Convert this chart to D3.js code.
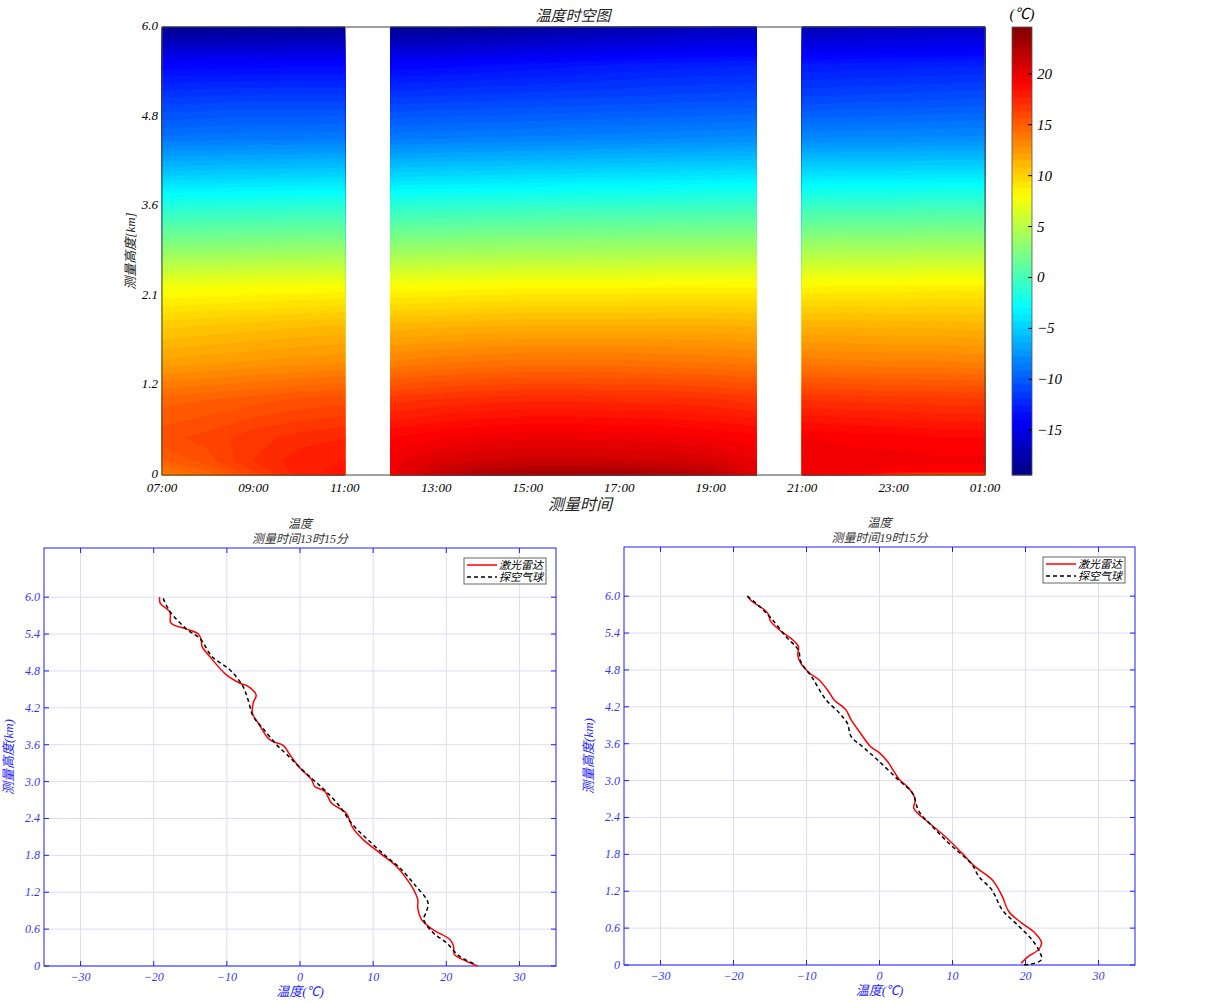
<!DOCTYPE html>
<html>
<head>
<meta charset="utf-8">
<script src="https://cdn.jsdelivr.net/npm/d3@7"></script>
<style>
body{margin:0;background:#fff;}
svg text{font-family:"Liberation Serif","Noto Sans CJK SC",serif;font-style:italic;}
</style>
</head>
<body>
<div id="chart"></div>
<script>
// ---------------- data ----------------
// heatmap grid: hours after 07:00, heights (km), temperature rows (one per height)
var gridHours = [0,1,2,3,4,5,6,7,8,9,10,11,12,13,14,15,16,17,18];
var gridHeights = [0,0.05,0.2,0.5,1.0,1.5,2.0,2.5,3.0,3.5,4.0,4.5,5.0,5.5,6.0];
var segments = [[0,4],[5,13],[14,18]];   // column ranges with data (gaps 11-12h, 20-21h)
var gridTemp = [
  [13.5,14.5,16.0,17.5,18.0, 19.5,21.5,23.0,23.3,23.3,23.3,23.0,22.5,20.5, 19.5,19.0,16.0,15.0,15.0],
  [14.0,15.0,16.5,17.8,18.2, 19.8,21.3,22.3,22.6,22.6,22.6,22.3,21.8,20.3, 19.8,19.6,19.3,19.2,19.2],
  [15.0,15.8,17.0,17.8,18.0, 19.8,20.5,21.0,21.2,21.2,21.1,21.0,20.7,20.0, 20.0,19.8,19.7,19.6,19.6],
  [15.8,16.2,16.8,17.2,17.5, 19.0,19.4,19.7,19.9,19.9,19.8,19.7,19.5,19.2, 19.5,19.3,19.2,19.0,19.0],
  [14.8,15.0,15.3,15.6,15.8, 16.8,17.1,17.3,17.4,17.4,17.3,17.3,17.1,16.8, 17.0,16.9,16.8,16.7,16.6],
  [12.2,12.4,12.6,12.8,13.0, 13.6,13.9,14.1,14.2,14.2,14.2,14.1,14.0,13.8, 13.8,13.7,13.6,13.6,13.5],
  [10.3,10.5,10.7,10.9,11.0, 11.2,11.3,11.4,11.5,11.5,11.5,11.5,11.5,11.4, 11.4,11.4,11.3,11.3,11.2],
  [7.8,7.9,8.0,8.1,8.2, 8.2,8.3,8.4,8.5,8.5,8.5,8.6,8.6,8.6, 8.6,8.7,8.7,8.8,8.8],
  [3.4,3.5,3.6,3.7,3.8, 3.8,3.9,4.0,4.1,4.1,4.2,4.3,4.3,4.4, 4.4,4.5,4.5,4.6,4.6],
  [-0.6,-0.5,-0.4,-0.3,-0.2, -0.2,-0.1,0.0,0.1,0.2,0.2,0.3,0.4,0.5, 0.4,0.5,0.5,0.6,0.6],
  [-5.0,-4.9,-4.8,-4.7,-4.6, -4.6,-4.5,-4.4,-4.3,-4.2,-4.1,-4.0,-3.9,-3.8, -4.0,-3.9,-3.9,-3.8,-3.8],
  [-8.8,-8.7,-8.6,-8.6,-8.5, -8.6,-8.5,-8.4,-8.3,-8.2,-8.1,-8.0,-7.9,-7.8, -8.0,-7.9,-7.9,-7.8,-7.8],
  [-11.2,-11.1,-11.0,-11.0,-11.0, -11.2,-11.1,-11.0,-10.9,-10.8,-10.7,-10.6,-10.5,-10.4, -10.7,-10.6,-10.5,-10.4,-10.3],
  [-13.9,-13.8,-13.8,-13.7,-13.7, -13.9,-13.8,-13.6,-13.4,-13.2,-13.0,-12.8,-12.7,-12.6, -13.0,-12.9,-12.8,-12.7,-12.6],
  [-18.8,-18.8,-18.7,-18.6,-18.6, -18.8,-18.7,-18.5,-18.2,-17.9,-17.6,-17.3,-17.0,-16.8, -17.2,-17.0,-16.8,-16.6,-16.5]
];
var timeTickHours = [0,2,4,6,8,10,12,14,16,18];
var timeTickLabels = ['07:00','09:00','11:00','13:00','15:00','17:00','19:00','21:00','23:00','01:00'];
var heightTicks = [0,1.2,2.4,3.6,4.8,6.0];
var heightTickLabels = ['0','1.2','2.1','3.6','4.8','6.0'];
var cbarRange = [-19.4, 24.6];
var cbarTicks = [-15,-10,-5,0,5,10,15,20];

// profiles [temperature, height]
var lidar1315 = [[-19.2,6.0],[-19.1,5.9],[-17.8,5.76],[-17.7,5.59],[-17.3,5.55],[-15.5,5.48],[-13.9,5.4],[-13.5,5.3],[-13.4,5.2],[-12.3,5.03],[-10.1,4.74],[-8.2,4.6],[-7.1,4.55],[-6.0,4.41],[-6.4,4.28],[-6.5,4.11],[-5.7,3.95],[-4.4,3.71],[-3.7,3.65],[-2.3,3.59],[-1.4,3.44],[0,3.22],[1.6,3.03],[2.0,2.92],[3.4,2.84],[4.3,2.65],[6.3,2.49],[7.2,2.25],[8.6,2.06],[10.9,1.84],[13.2,1.62],[14.5,1.43],[15.4,1.27],[16.1,1.08],[16.1,0.95],[16.6,0.76],[18.2,0.59],[20.5,0.43],[21.0,0.32],[21.1,0.19],[22.7,0.08],[24.3,0.0]];
var sonde1315 = [[-18.7,5.98],[-17.8,5.77],[-15.5,5.48],[-13.7,5.33],[-12.0,5.03],[-9.6,4.82],[-7.8,4.55],[-7.1,4.33],[-6.4,4.06],[-5.1,3.87],[-3.2,3.6],[-1.8,3.44],[-0.2,3.25],[1.8,3.03],[3.4,2.86],[5.4,2.6],[7.2,2.3],[9.5,2.03],[11.8,1.78],[13.6,1.6],[15.7,1.32],[17.5,1.03],[17.2,0.86],[16.9,0.76],[18.2,0.54],[20.0,0.38],[21.8,0.16],[24.1,0.02]];
var lidar1915 = [[-18.1,6.0],[-17.4,5.91],[-16.0,5.8],[-15.3,5.72],[-14.9,5.59],[-13.7,5.45],[-11.9,5.29],[-11.1,5.18],[-11.2,5.04],[-10.8,4.91],[-9.6,4.75],[-8.3,4.64],[-7.1,4.47],[-6.2,4.31],[-4.6,4.15],[-3.9,3.99],[-2.6,3.77],[-1.2,3.55],[0,3.45],[1.1,3.31],[2.7,3.02],[4.0,2.88],[4.9,2.69],[4.7,2.55],[6.8,2.31],[9.0,2.09],[11.3,1.82],[13.1,1.6],[15.4,1.39],[16.8,1.12],[17.7,0.87],[19.5,0.68],[21.3,0.52],[22.2,0.36],[21.8,0.25],[20.4,0.14],[19.4,0.03]];
var sonde1915 = [[-18.1,6.0],[-16.5,5.84],[-14.9,5.65],[-12.8,5.34],[-11.1,5.12],[-10.8,4.94],[-9.2,4.67],[-7.3,4.31],[-5.5,4.1],[-4.4,3.93],[-3.9,3.72],[-2.3,3.55],[-0.3,3.34],[2.5,3.02],[4.5,2.8],[5.4,2.5],[7.2,2.26],[9.5,1.98],[12.7,1.63],[13.6,1.44],[15.4,1.22],[16.8,0.9],[19.1,0.63],[20.9,0.41],[22.0,0.2],[22.2,0.09],[21.3,0.03],[19.5,0.0]];

var profXTicks = [-30,-20,-10,0,10,20,30];
var profYTicks = [0,0.6,1.2,1.8,2.4,3.0,3.6,4.2,4.8,5.4,6.0];
var legendNames = ['激光雷达','探空气球'];

// ---------------- drawing ----------------
var svg = d3.select('#chart').append('svg').attr('width', 1223).attr('height', 1004);
var minus = function(v){ return v < 0 ? '\u2212' + Math.abs(v) : String(v); };

// jet colormap
var jetPos = [0, 0.125, 0.375, 0.625, 0.875, 1];
var jet = d3.scaleLinear()
    .domain(jetPos.map(function(p){ return cbarRange[0] + p*(cbarRange[1]-cbarRange[0]); }))
    .range(['#000080','#0000ff','#00ffff','#ffff00','#ff0000','#800000'])
    .clamp(true);

// ---- top heatmap ----
var hm = {l:162, r:985, t:27, b:475};
var xTime = d3.scaleLinear().domain([0,18]).range([hm.l, hm.r]);
var yHeight = d3.scaleLinear().domain([0,6]).range([hm.b, hm.t]);
var rowToHeight = d3.scaleLinear().domain(d3.range(gridHeights.length)).range(gridHeights);
var levels = d3.range(-20, 25.01, 0.5);

var gHeat = svg.append('g');
segments.forEach(function(seg){
    var c0 = seg[0], c1 = seg[1];
    var nx = c1 - c0 + 1, ny = gridHeights.length;
    var colToHour = d3.scaleLinear().domain(d3.range(nx)).range(gridHours.slice(c0, c1+1));
    var vals = [];
    for (var j = 0; j < ny; j++) for (var i = c0; i <= c1; i++) vals.push(gridTemp[j][i]);
    var contours = d3.contours().size([nx, ny]).thresholds(levels)(vals);
    var tr = d3.geoTransform({point: function(x, y){
        var gi = Math.max(0, Math.min(nx-1, x-0.5));
        var gj = Math.max(0, Math.min(ny-1, y-0.5));
        this.stream.point(xTime(colToHour(gi)), yHeight(rowToHeight(gj)));
    }});
    var path = d3.geoPath(tr);
    gHeat.selectAll(null).data(contours).enter().append('path')
        .attr('d', path)
        .attr('fill', function(d){ return jet(d.value + 0.25); })
        .attr('stroke', function(d){ return jet(d.value + 0.25); })
        .attr('stroke-width', 0.4);
});

// frame
svg.append('rect').attr('x', hm.l).attr('y', hm.t).attr('width', hm.r-hm.l).attr('height', hm.b-hm.t)
    .attr('fill','none').attr('stroke','#444').attr('stroke-width',1);

svg.selectAll('.ht').data(heightTicks).enter().append('text')
    .attr('x', hm.l - 4).attr('y', function(d){ return yHeight(d) + 3; })
    .attr('text-anchor','end').attr('font-size', 13).attr('fill','#000')
    .text(function(d,i){ return heightTickLabels[i]; });
svg.selectAll('.tt').data(timeTickHours).enter().append('text')
    .attr('x', function(d){ return xTime(d); }).attr('y', hm.b + 17)
    .attr('text-anchor','middle').attr('font-size', 13).attr('fill','#000')
    .text(function(d,i){ return timeTickLabels[i]; });

svg.append('text').attr('x', 573).attr('y', 21).attr('text-anchor','middle')
    .attr('font-size', 15).attr('fill','#222').text('温度时空图');
svg.append('text').attr('x', 580).attr('y', 510).attr('text-anchor','middle')
    .attr('font-size', 16).attr('fill','#222').text('测量时间');
svg.append('text').attr('transform','translate(135,251) rotate(-90)').attr('text-anchor','middle')
    .attr('font-size', 13).attr('fill','#222').text('测量高度[km]');

// colorbar
var cb = {l:1012, r:1032};
var yCbar = d3.scaleLinear().domain(cbarRange).range([hm.b, hm.t]);
var nSteps = 64, stepV = (cbarRange[1]-cbarRange[0])/nSteps;
svg.append('g').selectAll('rect').data(d3.range(nSteps)).enter().append('rect')
    .attr('x', cb.l).attr('width', cb.r - cb.l)
    .attr('y', function(i){ return yCbar(cbarRange[0] + (i+1)*stepV); })
    .attr('height', function(i){ return yCbar(cbarRange[0] + i*stepV) - yCbar(cbarRange[0] + (i+1)*stepV) + 0.5; })
    .attr('fill', function(i){ return jet(cbarRange[0] + (i+0.5)*stepV); });
svg.append('rect').attr('x', cb.l).attr('y', hm.t).attr('width', cb.r-cb.l).attr('height', hm.b-hm.t)
    .attr('fill','none').attr('stroke','#555').attr('stroke-width',0.8);
var cbTicks = svg.append('g');
cbTicks.selectAll('line').data(cbarTicks).enter().append('line')
    .attr('x1', cb.r - 4).attr('x2', cb.r).attr('y1', function(d){ return yCbar(d); }).attr('y2', function(d){ return yCbar(d); })
    .attr('stroke','#000');
cbTicks.selectAll('text').data(cbarTicks).enter().append('text')
    .attr('x', cb.r + 5).attr('y', function(d){ return yCbar(d) + 5; })
    .attr('font-size', 15).attr('fill','#000').text(minus);
svg.append('text').attr('x', 1022).attr('y', 19).attr('text-anchor','middle')
    .attr('font-size', 15).attr('fill','#000').text('(℃)');

// ---- profile charts ----
function profileChart(box, lidar, sonde, when){
    var g = svg.append('g');
    var x = d3.scaleLinear().domain([-35,35]).range([box.l, box.r]);
    var y = d3.scaleLinear().domain([0,6.8]).range([box.b, box.t]);
    var blue = '#1f1fff', grid = '#dcdcf7';

    g.selectAll('.gx').data(profXTicks).enter().append('line')
        .attr('x1', function(d){ return x(d); }).attr('x2', function(d){ return x(d); })
        .attr('y1', box.t).attr('y2', box.b).attr('stroke', grid);
    g.selectAll('.gy').data(profYTicks).enter().append('line')
        .attr('y1', function(d){ return y(d); }).attr('y2', function(d){ return y(d); })
        .attr('x1', box.l).attr('x2', box.r).attr('stroke', grid);

    // ticks inward on all four sides
    profXTicks.forEach(function(d){
        g.append('line').attr('x1', x(d)).attr('x2', x(d)).attr('y1', box.b).attr('y2', box.b-5).attr('stroke', blue);
        g.append('line').attr('x1', x(d)).attr('x2', x(d)).attr('y1', box.t).attr('y2', box.t+5).attr('stroke', blue);
    });
    profYTicks.forEach(function(d){
        g.append('line').attr('y1', y(d)).attr('y2', y(d)).attr('x1', box.l).attr('x2', box.l+5).attr('stroke', blue);
        g.append('line').attr('y1', y(d)).attr('y2', y(d)).attr('x1', box.r).attr('x2', box.r-5).attr('stroke', blue);
    });
    g.append('rect').attr('x', box.l).attr('y', box.t).attr('width', box.r-box.l).attr('height', box.b-box.t)
        .attr('fill','none').attr('stroke', blue).attr('stroke-width', 1);

    g.selectAll('.lx').data(profXTicks).enter().append('text')
        .attr('x', function(d){ return x(d); }).attr('y', box.b + 15)
        .attr('text-anchor','middle').attr('font-size', 12).attr('fill', '#3535ff').text(minus);
    g.selectAll('.ly').data(profYTicks).enter().append('text')
        .attr('x', box.l - 4).attr('y', function(d){ return y(d) + 4; })
        .attr('text-anchor','end').attr('font-size', 12).attr('fill', '#3535ff')
        .text(function(d){ return d === 0 ? '0' : d.toFixed(1); });

    var line = d3.line().x(function(d){ return x(d[0]); }).y(function(d){ return y(d[1]); })
        .curve(d3.curveCatmullRom.alpha(0.5));
    g.append('path').datum(lidar).attr('d', line).attr('fill','none')
        .attr('stroke','#ff0000').attr('stroke-width',1.5);
    g.append('path').datum(sonde).attr('d', line).attr('fill','none')
        .attr('stroke','#000').attr('stroke-width',1.5).attr('stroke-dasharray','4,3');

    var cx = (box.l + box.r)/2;
    g.append('text').attr('x', cx).attr('y', box.t - 20).attr('text-anchor','middle')
        .attr('font-size', 12).attr('fill','#333').text('温度');
    g.append('text').attr('x', cx).attr('y', box.t - 5).attr('text-anchor','middle')
        .attr('font-size', 12).attr('fill','#333').text('测量时间' + when);
    g.append('text').attr('x', cx).attr('y', box.b + 30).attr('text-anchor','middle')
        .attr('font-size', 13).attr('fill', blue).text('温度(℃)');
    g.append('text').attr('transform','translate(' + (box.l - 31) + ',' + (box.b - 209) + ') rotate(-90)')
        .attr('text-anchor','middle').attr('font-size', 13).attr('fill', blue).text('测量高度(km)');

    // legend
    var lg = g.append('g').attr('transform','translate(' + (box.r - 92) + ',' + (box.t + 10) + ')');
    lg.append('rect').attr('width', 82).attr('height', 26).attr('fill','#fff').attr('stroke','#666');
    lg.append('line').attr('x1',3).attr('x2',33).attr('y1',7).attr('y2',7).attr('stroke','#ff0000').attr('stroke-width',1.5);
    lg.append('line').attr('x1',3).attr('x2',33).attr('y1',19).attr('y2',19).attr('stroke','#000').attr('stroke-width',1.5).attr('stroke-dasharray','4,3');
    lg.selectAll('text').data(legendNames).enter().append('text')
        .attr('x', 35).attr('y', function(d,i){ return 11 + i*12; })
        .attr('font-size', 11).attr('fill','#000').text(function(d){ return d; });
}

profileChart({l:44, r:556, t:548, b:966}, lidar1315, sonde1315, '13时15分');
profileChart({l:624, r:1135, t:547, b:965}, lidar1915, sonde1915, '19时15分');
</script>
</body>
</html>
